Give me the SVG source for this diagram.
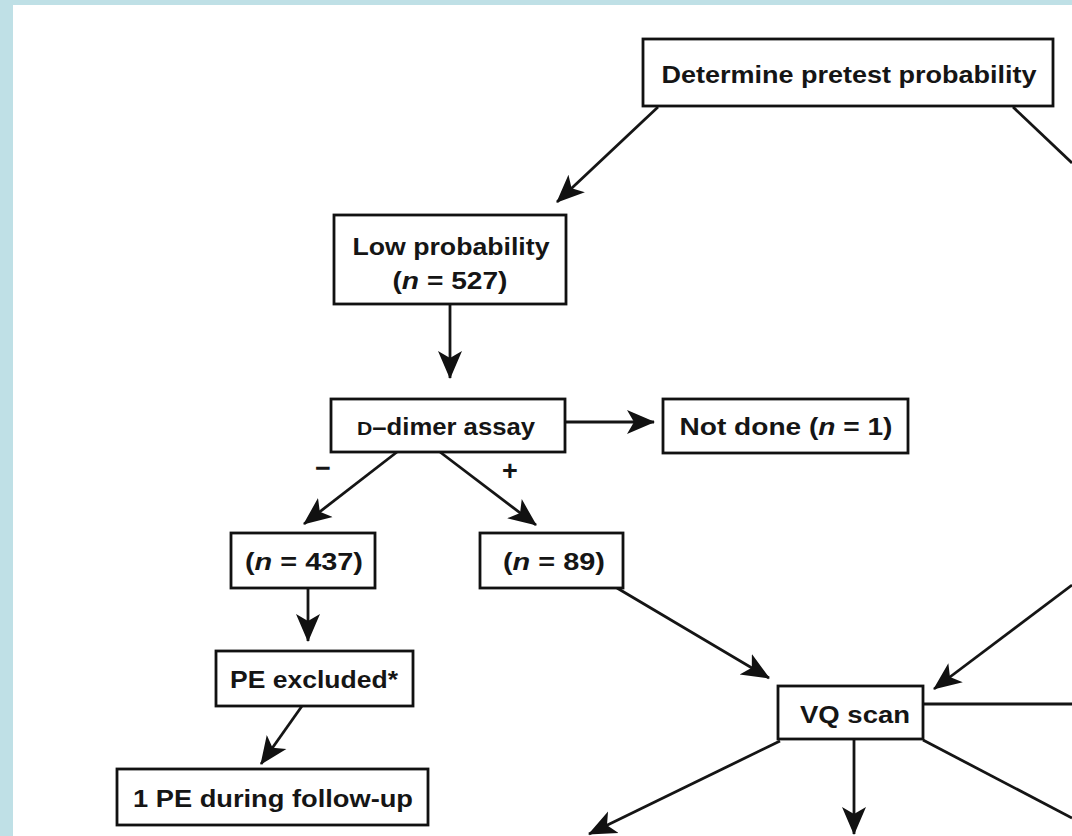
<svg xmlns="http://www.w3.org/2000/svg" width="1072" height="836" viewBox="0 0 1072 836">
  <style>
    .box { fill: #ffffff; stroke: #111111; stroke-width: 2.8; }
    .lbl { font-family: "Liberation Sans", Arial, sans-serif; font-weight: bold; font-size: 23px; fill: #151515; text-anchor: middle; }
    .sign { font-family: "Liberation Sans", Arial, sans-serif; font-weight: bold; font-size: 27px; fill: #151515; text-anchor: middle; }
    .conn line { stroke: #151515; stroke-width: 2.8; fill: none; }
    .arr { marker-end: url(#ah); }
    .it { font-style: italic; }
  </style>
  <defs>
    <marker id="ah" viewBox="0 0 28 26" refX="27" refY="13" markerWidth="28" markerHeight="26" markerUnits="userSpaceOnUse" orient="auto">
      <path d="M0,1 L28,13 L0,25 L7,13 z" fill="#111111"/>
    </marker>
  </defs>

  <rect x="0" y="0" width="1072" height="836" fill="#bfe0e6"/>
  <rect x="13" y="5" width="1059" height="831" fill="#ffffff"/>

  <g id="connectors" class="conn">
    <line class="arr" x1="658" y1="107" x2="557" y2="202"/>
    <line x1="1013" y1="107" x2="1072" y2="163"/>
    <line class="arr" x1="450" y1="304" x2="450" y2="378"/>
    <line class="arr" x1="565" y1="422" x2="654" y2="422"/>
    <line class="arr" x1="397" y1="452" x2="304" y2="524"/>
    <line class="arr" x1="440" y1="452" x2="536" y2="525"/>
    <line class="arr" x1="308" y1="588" x2="308" y2="641"/>
    <line class="arr" x1="302" y1="706" x2="261" y2="764"/>
    <line class="arr" x1="617" y1="588" x2="769" y2="678"/>
    <line class="arr" x1="1072" y1="585" x2="934" y2="689"/>
    <line x1="923" y1="704" x2="1072" y2="704"/>
    <line class="arr" x1="780" y1="741" x2="589" y2="834"/>
    <line class="arr" x1="854" y1="739" x2="854" y2="834"/>
    <line x1="923" y1="740" x2="1072" y2="818"/>
  </g>

  <g id="edge-labels">
    <text class="sign" x="323" y="477">−</text>
    <text class="sign" x="510" y="480">+</text>
  </g>

  <g id="node-determine">
    <rect class="box" x="643" y="39" width="410" height="67"/>
    <text class="lbl" x="849" y="83" textLength="375" lengthAdjust="spacingAndGlyphs">Determine pretest probability</text>
  </g>

  <g id="node-low">
    <rect class="box" x="334" y="215" width="232" height="89"/>
    <text class="lbl" x="451" y="255" textLength="197" lengthAdjust="spacingAndGlyphs">Low probability</text>
    <text class="lbl" x="450" y="289" textLength="115" lengthAdjust="spacingAndGlyphs">(<tspan class="it">n</tspan> = 527)</text>
  </g>

  <g id="node-ddimer">
    <rect class="box" x="331" y="399" width="234" height="53"/>
    <text class="lbl" x="446" y="435" textLength="178" lengthAdjust="spacingAndGlyphs"><tspan font-size="19">D</tspan>–dimer assay</text>
  </g>

  <g id="node-notdone">
    <rect class="box" x="663" y="399" width="245" height="54"/>
    <text class="lbl" x="786" y="435" textLength="213" lengthAdjust="spacingAndGlyphs">Not done (<tspan class="it">n</tspan> = 1)</text>
  </g>

  <g id="node-n437">
    <rect class="box" x="231" y="533" width="144" height="55"/>
    <text class="lbl" x="304" y="570" textLength="118" lengthAdjust="spacingAndGlyphs">(<tspan class="it">n</tspan> = 437)</text>
  </g>

  <g id="node-n89">
    <rect class="box" x="480" y="533" width="143" height="55"/>
    <text class="lbl" x="554" y="570" textLength="102" lengthAdjust="spacingAndGlyphs">(<tspan class="it">n</tspan> = 89)</text>
  </g>

  <g id="node-excluded">
    <rect class="box" x="216" y="651" width="197" height="55"/>
    <text class="lbl" x="314" y="688" textLength="168" lengthAdjust="spacingAndGlyphs">PE excluded*</text>
  </g>

  <g id="node-followup">
    <rect class="box" x="117" y="769" width="311" height="56"/>
    <text class="lbl" x="273" y="807" textLength="280" lengthAdjust="spacingAndGlyphs">1 PE during follow-up</text>
  </g>

  <g id="node-vq">
    <rect class="box" x="778" y="686" width="145" height="53"/>
    <text class="lbl" x="855" y="723" textLength="110" lengthAdjust="spacingAndGlyphs">VQ scan</text>
  </g>
</svg>
